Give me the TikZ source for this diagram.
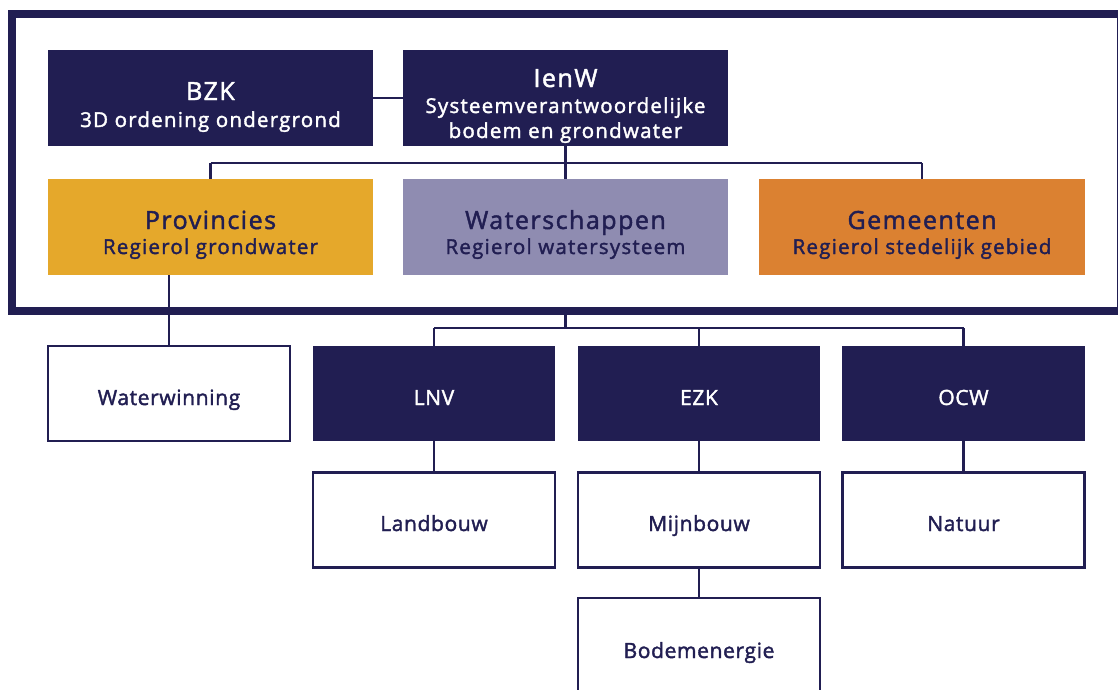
\documentclass[tikz,border=0pt]{standalone}
\usepackage{fontspec}
\setmainfont{Open Sans}[UprightFeatures={FakeBold=1.8}, LetterSpace=3]
\newfontfamily\widefam{Open Sans}[UprightFeatures={FakeBold=1.8}, LetterSpace=6]
\definecolor{navy}{RGB}{33,30,82}
\definecolor{prov}{RGB}{229,168,43}
\definecolor{wsch}{RGB}{143,140,177}
\definecolor{gem}{RGB}{219,129,49}
\tikzset{
  bigbox/.style={rectangle, inner sep=0pt, minimum width=325pt, minimum height=96pt},
  darkbox/.style={bigbox, fill=navy},
  smallbox/.style={rectangle, inner sep=0pt, minimum width=242pt, minimum height=95pt},
  smalldark/.style={smallbox, fill=navy},
  whitebox/.style={smallbox, draw=navy, line width=2.5pt, fill=white},
  conn/.style={draw=navy, line width=2.5pt},
  frame/.style={draw=navy, line width=7.5pt},
  ttl/.style={anchor=base, inner sep=0pt, font=\widefam\fontsize{25}{30}\selectfont},
  sub/.style={anchor=base, inner sep=0pt, font=\widefam\fontsize{20.5}{24}\selectfont},
  lbl/.style={anchor=base, inner sep=0pt, font=\fontsize{21}{25}\selectfont},
}
\begin{document}
\begin{tikzpicture}[x=1pt,y=-1pt]
\useasboundingbox (0,0) rectangle (1118,689);
\clip (0,0) rectangle (1118,689);
\fill[white] (0,0) rectangle (1118,689);
% frame
\draw[frame] (12,14) rectangle (1121,311);
% top row
\node[darkbox] (bzk) at (210.5,98) {};
\node[darkbox] (ienw) at (565.5,98) {};
\node[ttl, text=white] (bzkT) at (210.5,100) {BZK};
\node[sub, text=white] (bzkS) at (210.5,127) {3D ordening ondergrond};
\node[ttl, text=white] (ienwT) at (565.5,87) {IenW};
\node[sub, text=white] (ienwS1) at (565.5,113) {Systeemverantwoordelijke};
\node[sub, text=white] (ienwS2) at (565.5,138) {bodem en grondwater};
% second row
\node[bigbox, fill=prov] (prov) at (210.5,227) {};
\node[bigbox, fill=wsch] (wsch) at (565.5,227) {};
\node[bigbox, fill=gem, minimum width=326pt] (gem) at (922,227) {};
\node[ttl, text=navy] (provT) at (210.5,229) {Provincies};
\node[sub, text=navy] (provS) at (210.5,254) {Regierol grondwater};
\node[ttl, text=navy] (wschT) at (565.5,229) {Waterschappen};
\node[sub, text=navy] (wschS) at (565.5,254) {Regierol watersysteem};
\node[ttl, text=navy] (gemT) at (922,229) {Gemeenten};
\node[sub, text=navy] (gemS) at (922,254) {Regierol stedelijk gebied};
% frame bottom anchor
\coordinate (fb) at (565.5,315);
% third row
\node[whitebox] (ww) at (169,393.5) {};
\node[smalldark] (lnv) at (434,393.5) {};
\node[smalldark] (ezk) at (699,393.5) {};
\node[smalldark, minimum width=243pt] (ocw) at (963.5,393.5) {};
\node[lbl, text=navy] (wwT) at (169,405) {Waterwinning};
\node[lbl, text=white] (lnvT) at (434,405) {LNV};
\node[lbl, text=white] (ezkT) at (699,405) {EZK};
\node[lbl, text=white] (ocwT) at (963.5,405) {OCW};
% fourth row
\node[whitebox] (land) at (434,520) {};
\node[whitebox] (mijn) at (699,520) {};
\node[whitebox, minimum width=242pt] (nat) at (963.5,520) {};
\node[lbl, text=navy] (landT) at (434,531) {Landbouw};
\node[lbl, text=navy] (mijnT) at (699,531) {Mijnbouw};
\node[lbl, text=navy] (natT) at (963.5,531) {Natuur};
% fifth row
\node[whitebox, minimum height=100pt] (bod) at (699,648) {};
\node[lbl, text=navy] (bodT) at (699,658) {Bodemenergie};
% connectors
\draw[conn] (bzk.east) -- (ienw.west);
\draw[conn] (ienw.south) -- (wsch.north);
\draw[conn] (prov.north |- 0,163) -- (gem.north |- 0,163);
\draw[conn] (prov.north |- 0,163) -- (prov.north);
\draw[conn] (gem.north |- 0,163) -- (gem.north);
\draw[conn] (prov.south -| ww.north) -- (ww.north);
\draw[conn] (fb) -- (565.5,328) coordinate (hub);
\draw[conn] (lnv.north |- hub) -- (ocw.north |- hub);
\draw[conn] (lnv.north |- hub) -- (lnv.north);
\draw[conn] (ezk.north |- hub) -- (ezk.north);
\draw[conn] (ocw.north |- hub) -- (ocw.north);
\draw[conn] (lnv.south) -- (land.north);
\draw[conn] (ezk.south) -- (mijn.north);
\draw[conn] (ocw.south) -- (nat.north);
\draw[conn] (mijn.south) -- (bod.north);
\end{tikzpicture}
\end{document}
